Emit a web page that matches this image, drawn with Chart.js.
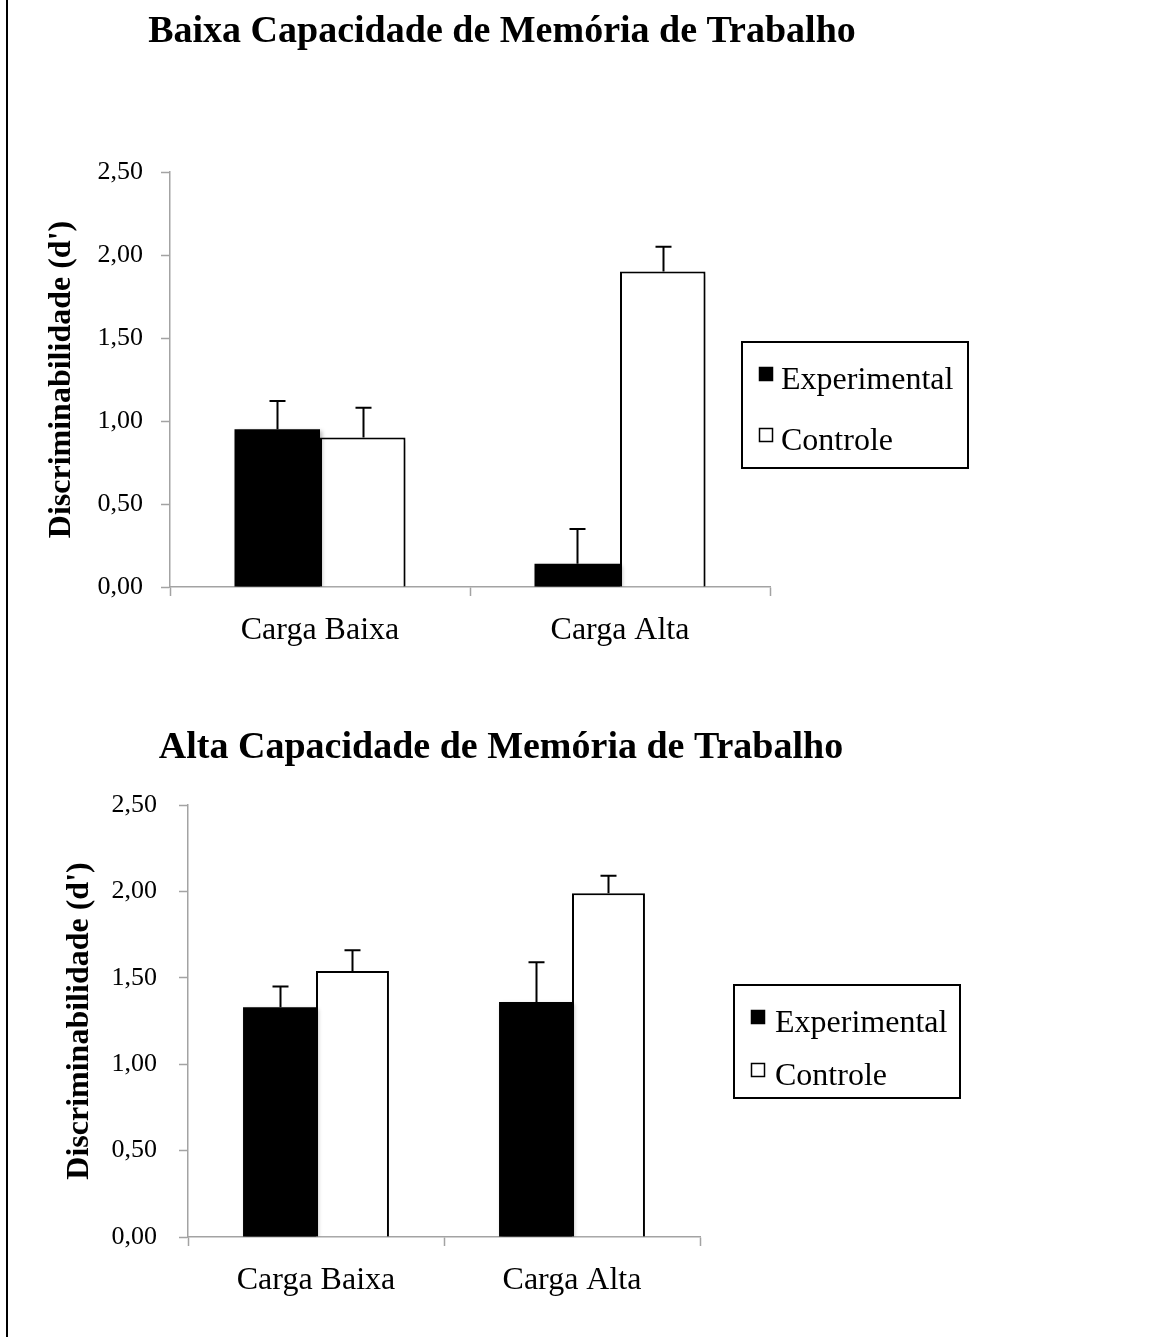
<!DOCTYPE html>
<html>
<head>
<meta charset="utf-8">
<script src="https://cdn.jsdelivr.net/npm/chart.js@4/dist/chart.umd.min.js"></script>
<style>
  html, body { margin: 0; padding: 0; background: #fff; }
  body { width: 1164px; height: 1337px; position: relative; overflow: hidden; }
  #frame { position: absolute; left: 6px; top: 0; width: 0; height: 1337px; border-left: 2px solid #000; }
  canvas { position: absolute; left: 0; }
  #c1 { top: 0; }
  #c2 { top: 680px; }
</style>
</head>
<body>
<div id="frame"></div>
<canvas id="c1" width="1164" height="680"></canvas>
<canvas id="c2" width="1164" height="657"></canvas>
<script>
// Shared category / series names
const categories = ['Carga Baixa', 'Carga Alta'];
const seriesNames = ['Experimental', 'Controle'];
const yTickLabels = ['0,00', '0,50', '1,00', '1,50', '2,00', '2,50'];

// Low working-memory capacity group: means and standard errors (d')
const lowExperimental = [0.95, 0.14];
const lowExperimentalErr = [0.17, 0.21];
const lowControl = [0.90, 1.90];
const lowControlErr = [0.18, 0.15];

// High working-memory capacity group
const highExperimental = [1.33, 1.36];
const highExperimentalErr = [0.12, 0.23];
const highControl = [1.54, 1.99];
const highControlErr = [0.12, 0.10];

const SERIF = '"Liberation Serif", "Times New Roman", Times, serif';
const AXIS_GRAY = '#a3a3a3';

// Heading drawn above each plot
const headingPlugin = {
  id: 'heading',
  afterDraw(chart, args, opts) {
    const ctx = chart.ctx;
    ctx.save();
    ctx.fillStyle = '#000';
    ctx.font = 'bold 38px ' + SERIF;
    ctx.textAlign = 'center';
    ctx.textBaseline = 'middle';
    ctx.fillText(opts.text, opts.x, opts.y);
    ctx.restore();
  }
};

// Soft drop shadow under the bars
const barShadowPlugin = {
  id: 'barShadow',
  beforeDatasetsDraw(chart) {
    const ctx = chart.ctx;
    ctx.save();
    ctx.shadowColor = 'rgba(0,0,0,0.30)';
    ctx.shadowBlur = 4;
    ctx.shadowOffsetX = 2;
    ctx.shadowOffsetY = 2;
  },
  afterDatasetsDraw(chart) {
    chart.ctx.restore();
  }
};

// Upper error whiskers with caps
const errorBarPlugin = {
  id: 'errorBars',
  afterDatasetsDraw(chart) {
    const ctx = chart.ctx;
    const yScale = chart.scales.y;
    ctx.save();
    ctx.strokeStyle = '#000';
    ctx.lineWidth = 2;
    chart.data.datasets.forEach((ds, di) => {
      const meta = chart.getDatasetMeta(di);
      meta.data.forEach((bar, i) => {
        const top = yScale.getPixelForValue(ds.data[i] + ds.errors[i]);
        const x = Math.round(bar.x) + 0.5;
        ctx.beginPath();
        ctx.moveTo(x, bar.y);
        ctx.lineTo(x, top);
        ctx.moveTo(x - 8, top);
        ctx.lineTo(x + 8, top);
        ctx.stroke();
      });
    });
    ctx.restore();
  }
};

// Boxed legend beside the plot
const boxLegendPlugin = {
  id: 'boxLegend',
  afterDraw(chart, args, o) {
    const ctx = chart.ctx;
    ctx.save();
    ctx.strokeStyle = '#000';
    ctx.lineWidth = 2;
    ctx.strokeRect(o.left, o.top, o.width, o.height);
    ctx.font = '32px ' + SERIF;
    ctx.textBaseline = 'alphabetic';
    ctx.textAlign = 'left';
    chart.data.datasets.forEach((ds, i) => {
      const base = o.top + o.baselines[i];
      const sx = o.left + o.swatchX;
      const sy = base - 22;
      ctx.fillStyle = ds.backgroundColor;
      ctx.fillRect(sx, sy, 14, 14);
      ctx.lineWidth = 1.5;
      ctx.strokeStyle = '#000';
      ctx.strokeRect(sx + 0.5, sy + 0.5, 13, 13);
      ctx.fillStyle = '#000';
      ctx.fillText(ds.label, o.left + o.textX, base);
    });
    ctx.restore();
  }
};

function makeChart(canvasId, title, expVals, expErr, ctlVals, ctlErr, geo) {
  return new Chart(document.getElementById(canvasId), {
    type: 'bar',
    data: {
      labels: categories,
      datasets: [
        {
          label: seriesNames[0],
          data: expVals,
          errors: expErr,
          backgroundColor: '#000000',
          borderColor: '#000000',
          borderWidth: 0
        },
        {
          label: seriesNames[1],
          data: ctlVals,
          errors: ctlErr,
          backgroundColor: '#ffffff',
          borderColor: '#000000',
          borderWidth: 2
        }
      ]
    },
    options: {
      responsive: false,
      devicePixelRatio: 1,
      animation: false,
      events: [],
      categoryPercentage: 0.57,
      barPercentage: 1.0,
      layout: {
        padding: { left: 0, top: geo.top, right: 1164 - geo.right, bottom: 0 }
      },
      plugins: {
        legend: { display: false },
        tooltip: { enabled: false },
        title: { display: false },
        heading: { text: title, x: geo.titleX, y: geo.titleY },
        boxLegend: geo.legend
      },
      scales: {
        x: {
          afterFit(s) { s.height = geo.canvasH - geo.bottom; },
          border: { display: true, color: AXIS_GRAY, width: 1.5 },
          grid: {
            offset: true,
            drawOnChartArea: false,
            drawTicks: true,
            tickLength: 9,
            tickColor: AXIS_GRAY,
            tickWidth: 1.5
          },
          ticks: {
            color: '#000',
            font: { family: SERIF, size: 32 },
            padding: 15,
            maxRotation: 0
          }
        },
        y: {
          min: 0,
          max: 2.5,
          afterFit(s) { s.width = geo.left; },
          border: { display: true, color: AXIS_GRAY, width: 1.5 },
          grid: {
            drawOnChartArea: false,
            drawTicks: true,
            tickLength: 9,
            tickColor: AXIS_GRAY,
            tickWidth: 1.5
          },
          ticks: {
            stepSize: 0.5,
            color: '#000',
            font: { family: SERIF, size: 26 },
            padding: geo.tickPad,
            callback(value, index) { return yTickLabels[index]; }
          },
          title: {
            display: true,
            text: "Discriminabilidade (d')",
            color: '#000',
            font: { family: SERIF, size: 32, weight: 'bold' },
            padding: { top: geo.yTitleX - 19.2, bottom: 0 }
          }
        }
      }
    },
    plugins: [headingPlugin, barShadowPlugin, errorBarPlugin, boxLegendPlugin]
  });
}

makeChart('c1', 'Baixa Capacidade de Memória de Trabalho',
  lowExperimental, lowExperimentalErr, lowControl, lowControlErr,
  {
    canvasH: 680, left: 170, right: 770, top: 172, bottom: 587,
    tickPad: 18, yTitleX: 62, titleX: 502, titleY: 32,
    legend: { left: 742, top: 342, width: 226, height: 126, swatchX: 17, textX: 39, baselines: [47, 108] }
  });

makeChart('c2', 'Alta Capacidade de Memória de Trabalho',
  highExperimental, highExperimentalErr, highControl, highControlErr,
  {
    canvasH: 657, left: 188, right: 700, top: 125, bottom: 557,
    tickPad: 22, yTitleX: 80, titleX: 501, titleY: 68,
    legend: { left: 734, top: 305, width: 226, height: 113, swatchX: 17, textX: 41, baselines: [47, 100] }
  });
</script>
</body>
</html>
